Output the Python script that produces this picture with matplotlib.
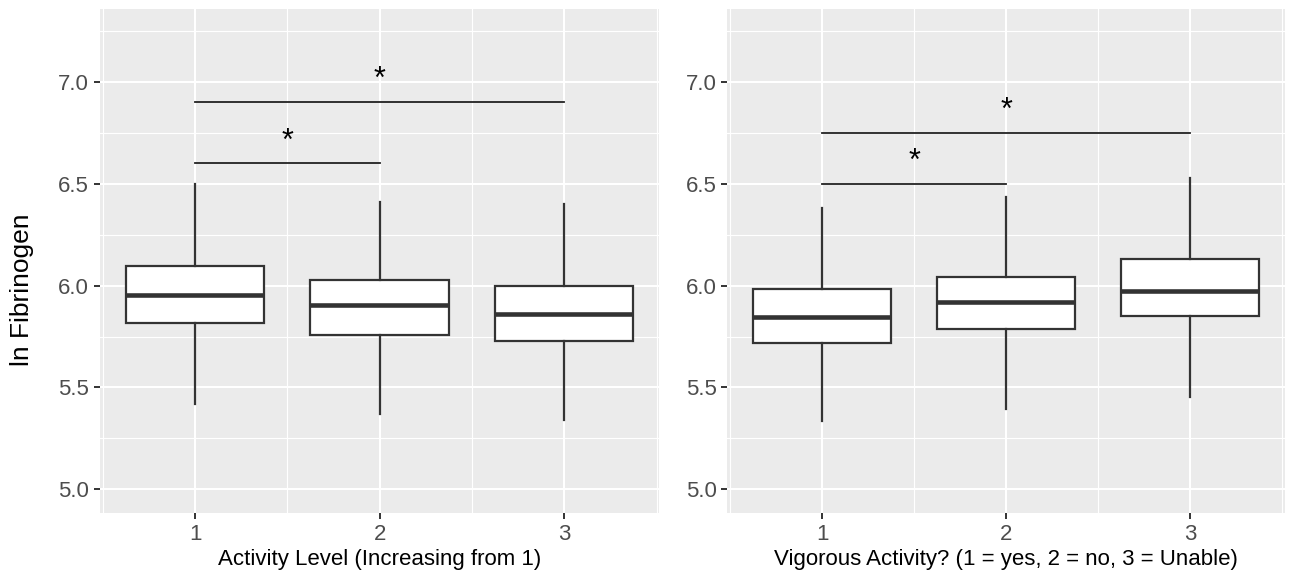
import numpy as np
import matplotlib
matplotlib.use('Agg')
import matplotlib.pyplot as plt
from matplotlib.ticker import MultipleLocator

plt.rcParams['font.family'] = ['Liberation Sans', 'DejaVu Sans']

groups = [1, 2, 3]
tick_labels = ['1', '2', '3']

# left panel: activity level
act_whislo = [5.418, 5.369, 5.342]
act_q1 = [5.818, 5.759, 5.726]
act_med = [5.954, 5.903, 5.862]
act_q3 = [6.098, 6.027, 5.997]
act_whishi = [6.499, 6.412, 6.401]
act_sig = [(1, 2, 6.60, '*'), (1, 3, 6.90, '*')]

# right panel: vigorous activity
vig_whislo = [5.335, 5.394, 5.453]
vig_q1 = [5.717, 5.785, 5.852]
vig_med = [5.846, 5.919, 5.975]
vig_q3 = [5.985, 6.044, 6.132]
vig_whishi = [6.383, 6.434, 6.528]
vig_sig = [(1, 2, 6.50, '*'), (1, 3, 6.75, '*')]

ylab = 'ln Fibrinogen'
xlab_left = 'Activity Level (Increasing from 1)'
xlab_right = 'Vigorous Activity? (1 = yes, 2 = no, 3 = Unable)'

W, H = 1291, 573
fig = plt.figure(figsize=(W / 100, H / 100), dpi=100)
ax1 = fig.add_axes([100 / W, 1 - 512.7 / H, (659.3 - 100) / W, (512.7 - 8.5) / H])
ax2 = fig.add_axes([727.3 / W, 1 - 512.7 / H, (1285 - 727.3) / W, (512.7 - 8.5) / H])

dark = '#333333'


def draw_panel(ax, whislo, q1, med, q3, whishi, sig, xlab):
    ax.set_facecolor('#EBEBEB')
    for s in ax.spines.values():
        s.set_visible(False)
    ax.set_xlim(0.485, 3.515)
    ax.set_ylim(4.885, 7.361)
    ax.xaxis.set_minor_locator(MultipleLocator(0.5))
    ax.set_yticks([5.0, 5.5, 6.0, 6.5, 7.0])
    ax.set_yticklabels(['5.0', '5.5', '6.0', '6.5', '7.0'])
    ax.yaxis.set_minor_locator(MultipleLocator(0.25))
    ax.grid(which='major', color='white', linewidth=1.5)
    ax.grid(which='minor', color='white', linewidth=0.8)
    ax.set_axisbelow(True)
    ax.tick_params(which='major', length=4.3, width=1.4, color=dark,
                   labelsize=16, labelcolor='#4D4D4D', pad=3.5)
    ax.tick_params(which='minor', length=0)

    stats = []
    for i in range(len(groups)):
        stats.append({'whislo': whislo[i], 'q1': q1[i], 'med': med[i],
                      'q3': q3[i], 'whishi': whishi[i], 'fliers': []})
    ax.bxp(stats, positions=groups, widths=0.75, showcaps=False,
           showfliers=False, patch_artist=True,
           boxprops=dict(facecolor='white', edgecolor=dark, linewidth=1.6),
           whiskerprops=dict(color=dark, linewidth=1.6),
           medianprops=dict(color=dark, linewidth=3.3, solid_capstyle='butt'))
    ax.set_xticks(groups)
    ax.set_xticklabels(tick_labels)

    for a, b, y, lab in sig:
        ax.plot([a, b], [y, y], color='#222222', linewidth=1.3)
        ax.text((a + b) / 2, y + 0.108, lab, ha='center', va='center',
                fontsize=22, color='black')

    ax.set_xlabel(xlab, fontsize=16, color='black', labelpad=3)


draw_panel(ax1, act_whislo, act_q1, act_med, act_q3, act_whishi, act_sig, xlab_left)
draw_panel(ax2, vig_whislo, vig_q1, vig_med, vig_q3, vig_whishi, vig_sig, xlab_right)

fig.text(22 / W, 1 - 290 / H, ylab, rotation=90, ha='center', va='center',
         fontsize=19, color='black')

fig.savefig('out.png', dpi=100, facecolor='white')
